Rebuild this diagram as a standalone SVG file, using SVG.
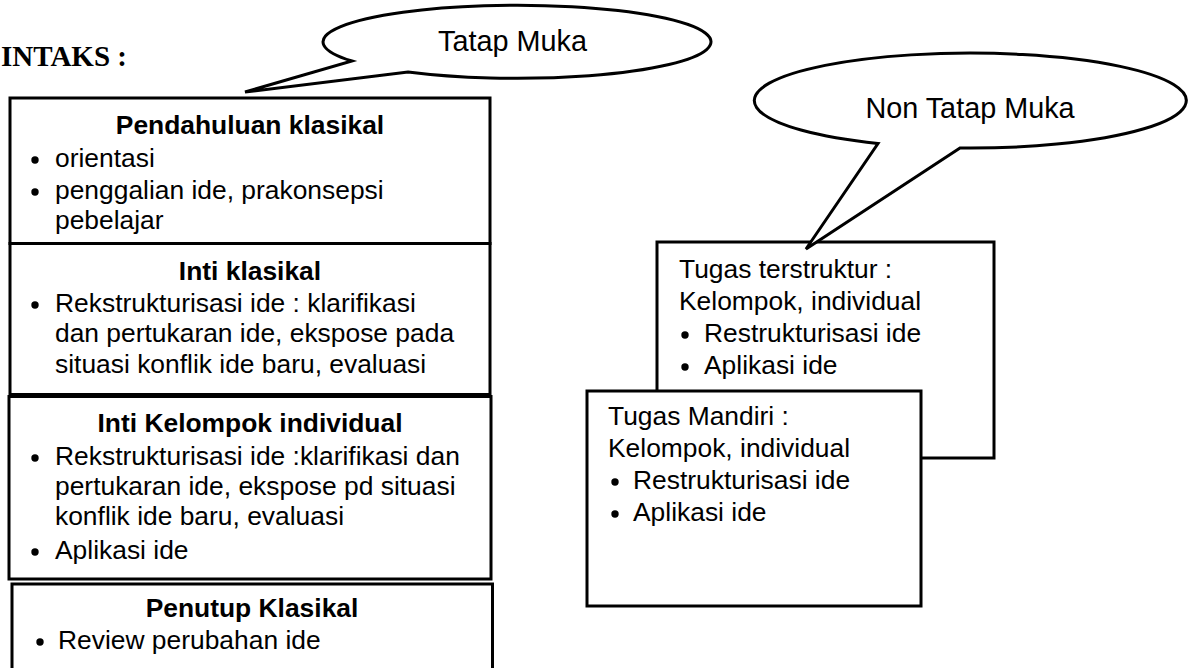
<svg xmlns="http://www.w3.org/2000/svg" width="1190" height="668" viewBox="0 0 1190 668">
  <style>
    .box{fill:#fff;stroke:#000;stroke-width:3}
    .callout{fill:#fff;stroke:#000;stroke-width:3;stroke-linejoin:miter}
    text{font-family:"Liberation Sans",Arial,sans-serif;font-size:26.4px;fill:#000}
    .title{font-weight:bold;text-anchor:middle}
    .big{font-size:28.8px;text-anchor:middle}
    .head{font-family:"Liberation Serif","Times New Roman",serif;font-weight:bold;font-size:29px}
    .dot{fill:#000}
  </style>
  <rect width="1190" height="668" fill="#fff"/>

  <text class="head" x="1" y="66">INTAKS :</text>

  <!-- left column: classroom stages -->
  <g id="pendahuluan">
    <rect class="box" x="10" y="98" width="480" height="145.5"/>
    <text class="title" x="250" y="134">Pendahuluan klasikal</text>
    <circle class="dot" cx="35" cy="160" r="3.7"/>
    <text x="55" y="167">orientasi</text>
    <circle class="dot" cx="35" cy="192" r="3.7"/>
    <text x="55" y="199">penggalian ide, prakonsepsi</text>
    <text x="55" y="229">pebelajar</text>
  </g>

  <g id="inti-klasikal">
    <rect class="box" x="10" y="243.5" width="480" height="151"/>
    <text class="title" x="250" y="280">Inti klasikal</text>
    <circle class="dot" cx="35" cy="305" r="3.7"/>
    <text x="55" y="312">Rekstrukturisasi ide : klarifikasi</text>
    <text x="55" y="342">dan pertukaran ide, ekspose pada</text>
    <text x="55" y="373">situasi konflik ide baru, evaluasi</text>
  </g>

  <g id="inti-kelompok">
    <rect class="box" x="9" y="396.5" width="482" height="182.5"/>
    <text class="title" x="250" y="432">Inti Kelompok individual</text>
    <circle class="dot" cx="35" cy="458" r="3.7"/>
    <text x="55" y="465">Rekstrukturisasi ide :klarifikasi dan</text>
    <text x="55" y="495">pertukaran ide, ekspose pd situasi</text>
    <text x="55" y="525">konflik ide baru, evaluasi</text>
    <circle class="dot" cx="35" cy="552" r="3.7"/>
    <text x="55" y="559">Aplikasi ide</text>
  </g>

  <g id="penutup">
    <rect class="box" x="12" y="584" width="480.5" height="120"/>
    <text class="title" x="252" y="617">Penutup Klasikal</text>
    <circle class="dot" cx="40" cy="642" r="3.7"/>
    <text x="58" y="649">Review perubahan ide</text>
  </g>

  <!-- right column: assignments -->
  <g id="tugas-terstruktur">
    <rect class="box" x="657" y="242" width="337" height="216"/>
    <text x="679" y="278">Tugas terstruktur :</text>
    <text x="679" y="310">Kelompok, individual</text>
    <circle class="dot" cx="685" cy="335" r="3.7"/>
    <text x="704" y="342">Restrukturisasi ide</text>
    <circle class="dot" cx="685" cy="367" r="3.7"/>
    <text x="704" y="374">Aplikasi ide</text>
  </g>

  <g id="tugas-mandiri">
    <rect class="box" x="587" y="391" width="334" height="215"/>
    <text x="608" y="425">Tugas Mandiri :</text>
    <text x="608" y="457">Kelompok, individual</text>
    <circle class="dot" cx="615" cy="482" r="3.7"/>
    <text x="633" y="489">Restrukturisasi ide</text>
    <circle class="dot" cx="615" cy="514" r="3.7"/>
    <text x="633" y="521">Aplikasi ide</text>
  </g>

  <!-- speech-bubble callouts -->
  <g id="tatap-muka">
    <path class="callout" d="M352 61 A194 36.5 0 1 1 408 72 L245 92 Z"/>
    <text class="big" x="512.5" y="51">Tatap Muka</text>
  </g>

  <g id="non-tatap-muka">
    <path class="callout" d="M878 143.5 A216 47.5 0 1 1 960 148 L806 249 Z"/>
    <text class="big" x="970" y="118">Non Tatap Muka</text>
  </g>
</svg>
